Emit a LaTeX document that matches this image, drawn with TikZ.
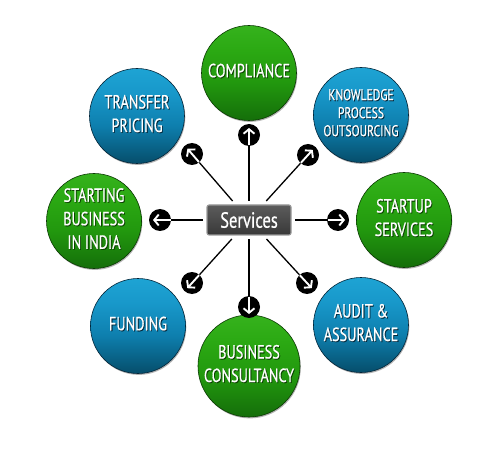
\documentclass[tikz,border=0pt]{standalone}
\usepackage{fontspec}
\setmainfont{PT Sans}[FakeStretch=0.75, FakeBold=0.6]
\usetikzlibrary{arrows.meta,calc,shadows}

\definecolor{g0}{HTML}{0C4A03}
\definecolor{g1}{HTML}{15700A}
\definecolor{g2}{HTML}{22980E}
\definecolor{g3}{HTML}{2BA913}
\definecolor{g4}{HTML}{38B41F}
\definecolor{g5}{HTML}{6CC852}
\definecolor{gEdge}{HTML}{0B3A03}
\definecolor{gS}{HTML}{0C3F02}
\definecolor{b0}{HTML}{04283A}
\definecolor{b1}{HTML}{06506E}
\definecolor{b2}{HTML}{0E7FAE}
\definecolor{b3}{HTML}{1898CA}
\definecolor{b4}{HTML}{1FA6D6}
\definecolor{b5}{HTML}{7CD0EE}
\definecolor{bEdge}{HTML}{03263A}
\definecolor{bS}{HTML}{03293C}

\pgfdeclareverticalshading{greenball}{100bp}{color(0bp)=(g0); color(12bp)=(g0); color(26bp)=(g1); color(45bp)=(g2); color(62bp)=(g3); color(78bp)=(g4); color(90bp)=(g5); color(100bp)=(g5)}
\pgfdeclareverticalshading{blueball}{100bp}{color(0bp)=(b0); color(12bp)=(b0); color(26bp)=(b1); color(45bp)=(b2); color(62bp)=(b3); color(78bp)=(b4); color(90bp)=(b5); color(100bp)=(b5)}

\newcommand\lns[1]{\begin{tabular}{@{}c@{}}#1\end{tabular}}
\newcommand\shd[2]{\makebox[0pt][l]{\kern0.9pt\raisebox{-0.9pt}{\color{#1}\lns{#2}}}\lns{#2}}

\tikzset{
  ballbase/.style={circle, minimum size=95pt, inner sep=0pt, line width=0.6pt, text=white,
    drop shadow={shadow xshift=0.8pt, shadow yshift=-1.4pt, opacity=0.3, fill=black},
    font=\fontsize{19}{23.5}\selectfont},
  gball/.style={ballbase, shading=greenball, draw=gEdge},
  bball/.style={ballbase, shading=blueball, draw=bEdge},
  srvbox/.style={rectangle, rounded corners=2pt, minimum width=84pt, minimum height=30pt,
    top color=black!64, bottom color=black!78, draw=black!40, line width=1.1pt,
    text=white, font=\fontsize{22}{24}\selectfont, outer sep=4pt, inner sep=0pt},
  arrdot/.style={circle, fill=black, minimum size=22pt, inner sep=0pt},
  conn/.style={black, line width=1.3pt},
  warrow/.style={white, line width=1.9pt, -{Straight Barb[length=4.5pt, width=11pt]}},
}

\begin{document}
\begin{tikzpicture}[x=1pt, y=-1pt]
\useasboundingbox (0,0) rectangle (500,470);

% service circles
\node[gball] (comp) at (249,73)  {\shd{gS}{COMPLIANCE}};
\node[bball] (kpo)  at (361,115) {\fontsize{15.5}{18}\selectfont\shd{bS}{KNOWLEDGE\\PROCESS\\OUTSOURCING}};
\node[gball] (stu)  at (404,220) {\shd{gS}{STARTUP\\SERVICES}};
\node[bball] (aud)  at (361,325) {\shd{bS}{AUDIT \&\\ASSURANCE}};
\node[gball] (bcon) at (249,366) {\shd{gS}{BUSINESS\\CONSULTANCY}};
\node[bball] (fund) at (138,326) {\shd{bS}{FUNDING}};
\node[gball] (sbi)  at (94,221)  {\shd{gS}{STARTING\\BUSINESS\\IN INDIA}};
\node[bball] (tp)   at (137,116) {\shd{bS}{TRANSFER\\PRICING}};

% centre box
\node[srvbox] (srv) at (249,220) {Services};

% arrow dots
\node[arrdot] (au) at (249,135) {};
\node[arrdot] (aur) at (308,155) {};
\node[arrdot] (ar) at (338,220) {};
\node[arrdot] (adr) at (307,283) {};
\node[arrdot] (ad) at (249,307) {};
\node[arrdot] (adl) at (192,283) {};
\node[arrdot] (al) at (160,220) {};
\node[arrdot] (aul) at (192,154) {};

% connectors
\foreach \a in {au,aur,ar,adr,ad,adl,al,aul}{
  \draw[conn] (srv) -- (\a);
  \draw[warrow] ($(\a)!10.5pt!(srv)$) -- ($(\a)!-7pt!(srv)$);
}
\end{tikzpicture}
\end{document}
